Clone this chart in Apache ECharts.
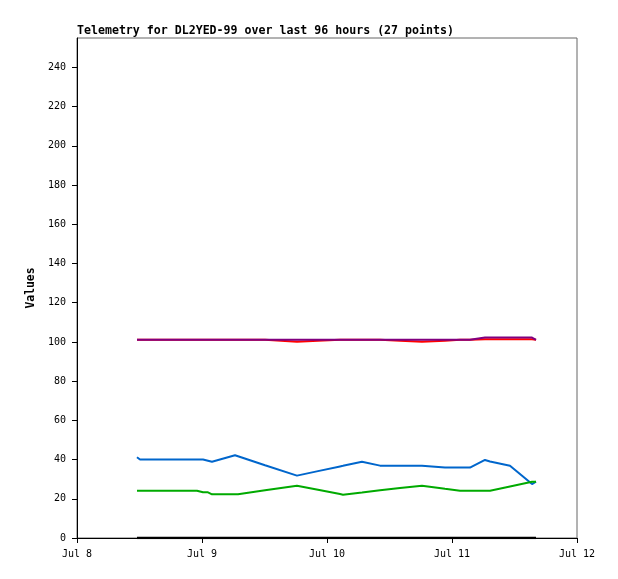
<!DOCTYPE html>
<html>
<head>
<meta charset="utf-8">
<script src="https://cdn.jsdelivr.net/npm/echarts@6/dist/echarts.min.js"></script>
<style>
  html, body { margin: 0; padding: 0; background: #fff; }
  #chart { width: 618px; height: 579px; }
</style>
</head>
<body>
<div id="chart"></div>
<script>
// sample times (UTC)
const times = [
  '2024-07-08T11:31', '2024-07-08T12:06', '2024-07-08T23:02', '2024-07-09T00:12',
  '2024-07-09T01:09', '2024-07-09T01:55', '2024-07-09T06:20', '2024-07-09T06:55',
  '2024-07-09T12:06', '2024-07-09T18:14', '2024-07-09T22:16', '2024-07-10T02:30',
  '2024-07-10T03:04', '2024-07-10T06:43', '2024-07-10T10:11', '2024-07-10T14:01',
  '2024-07-10T18:14', '2024-07-10T18:37', '2024-07-10T22:39', '2024-07-11T01:32',
  '2024-07-11T03:27', '2024-07-11T06:20', '2024-07-11T07:18', '2024-07-11T11:08',
  '2024-07-11T15:22', '2024-07-11T15:44', '2024-07-11T16:08'
];

const blueValues = [
  41.2, 40.0, 40.0, 40.0, 39.4, 38.9, 42.2, 41.7, 37.1, 31.8, 34.1, 36.5, 36.8, 38.9,
  36.9, 36.9, 36.9, 35.9, 35.9, 35.9, 35.9, 39.8, 39.0, 36.9, 27.5, 27.0, 28.7
];
const greenValues = [
  24.1, 24.1, 24.1, 23.3, 23.3, 22.3, 22.3, 22.3, 24.3, 26.7, 24.6, 22.4, 22.1, 23.2,
  24.3, 25.5, 26.7, 26.6, 25.1, 24.1, 24.1, 24.1, 24.1, 26.3, 28.7, 28.7, 28.7
];
const redValues = [
  101.1, 101.1, 101.1, 101.1, 101.1, 101.1, 101.1, 101.1, 101.1, 100.1, 100.6, 101.1,
  101.1, 101.1, 101.1, 100.6, 100.1, 100.1, 100.6, 101.1, 101.1, 101.4, 101.4, 101.4,
  101.4, 101.4, 101.1
];
const purpleValues = [
  101.1, 101.1, 101.1, 101.1, 101.1, 101.1, 101.1, 101.1, 101.1, 101.1, 101.1, 101.1,
  101.1, 101.1, 101.1, 101.1, 101.1, 101.1, 101.1, 101.1, 101.1, 102.2, 102.2, 102.2,
  102.2, 102.2, 101.1
];
const blackValues = [
  0, 0, 0, 0, 0, 0, 0, 0, 0, 0, 0, 0, 0, 0, 0, 0, 0, 0, 0, 0, 0, 0, 0, 0, 0, 0, 0
];

const yTicks = [0, 20, 40, 60, 80, 100, 120, 140, 160, 180, 200, 220, 240];
const xTickLabels = ['Jul 8', 'Jul 9', 'Jul 10', 'Jul 11', 'Jul 12'];

const startMs = Date.parse('2024-07-08T00:00Z');
const hours = times.map(t => (Date.parse(t + 'Z') - startMs) / 3600000);
const pairs = vals => vals.map((v, i) => [hours[i], v]);

const mono = 'DejaVu Sans Mono';

function line (name, color, vals, width) {
  return {
    name: name,
    type: 'line',
    data: pairs(vals),
    showSymbol: false,
    silent: true,
    lineStyle: { color: color, width: width || 2 },
    itemStyle: { color: color }
  };
}

const myChart = echarts.init(document.getElementById('chart'), null, { renderer: 'canvas' });
myChart.setOption({
  animation: false,
  backgroundColor: '#fff',
  title: {
    text: 'Telemetry for DL2YED-99 over last 96 hours (27 points)',
    left: 77,
    top: 25,
    padding: 0,
    textStyle: { fontFamily: mono, fontSize: 11.6, fontWeight: 'bold', color: '#000' }
  },
  grid: {
    left: 77, right: 41, top: 38, bottom: 41,
    show: true, borderColor: '#666', borderWidth: 1, backgroundColor: '#fff'
  },
  xAxis: {
    type: 'value',
    min: 0, max: 96, interval: 24,
    splitLine: { show: false },
    axisLine: { lineStyle: { color: '#000', width: 1 } },
    axisTick: { length: 5, lineStyle: { color: '#000' } },
    axisLabel: {
      margin: 11,
      fontFamily: mono, fontSize: 10, color: '#000',
      formatter: v => xTickLabels[Math.round(v / 24)]
    }
  },
  yAxis: {
    type: 'value',
    min: 0, max: 255,
    name: 'Values',
    nameLocation: 'middle',
    nameGap: 38,
    nameTextStyle: { fontFamily: mono, fontSize: 11.4, fontWeight: 'bold', color: '#000' },
    splitLine: { show: false },
    axisLine: { show: true, lineStyle: { color: '#000', width: 1 } },
    axisTick: { show: true, length: 5, customValues: yTicks, lineStyle: { color: '#000' } },
    axisLabel: { margin: 11, customValues: yTicks, fontFamily: mono, fontSize: 10, color: '#000' }
  },
  series: [
    line('ch3', '#0066cc', blueValues),
    line('ch4', '#00aa00', greenValues),
    line('ch2', '#ff0000', redValues),
    line('ch1', '#800080', purpleValues),
    line('ch5', '#000000', blackValues, 2.5)
  ]
});
</script>
</body>
</html>
